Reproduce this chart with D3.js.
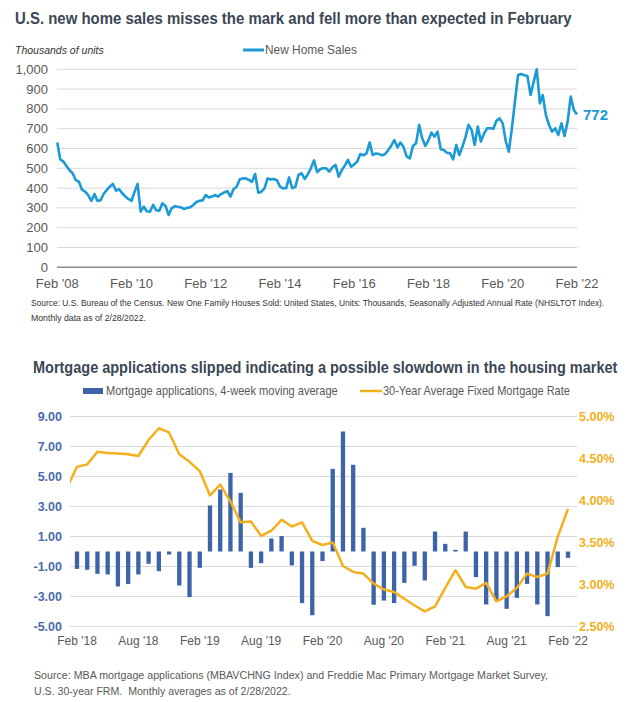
<!DOCTYPE html>
<html><head><meta charset="utf-8">
<script src="https://cdn.jsdelivr.net/npm/d3@7"></script>
<style>
body{margin:0;background:#fff;}
svg{display:block;font-family:"Liberation Sans",Arial,sans-serif;}
.narrow{font-family:"Liberation Sans Narrow","Arial Narrow","Liberation Sans",Arial,sans-serif;}
</style></head><body>
<svg id="c" width="630" height="702"></svg>
<script>
// ---------- Chart 1 data: U.S. new home sales (thousands, SAAR), monthly Feb 2008 .. Feb 2022
const salesStart = "2008-02-01";
const salesValues = [
630, 545, 534, 512, 490, 475, 440, 432, 392, 382, 365, 335,
370, 336, 338, 370, 390, 407, 421, 387, 395, 374, 358, 345,
336, 380, 421, 281, 306, 283, 281, 315, 288, 286, 323, 310,
264, 298, 308, 306, 303, 295, 300, 303, 315, 330, 336, 338,
365, 353, 357, 365, 357, 370, 378, 385, 357, 395, 407, 445,
449, 449, 441, 432, 471, 377, 382, 399, 449, 444, 446, 440,
407, 399, 399, 454, 400, 405, 466, 475, 446, 470, 500, 540,
480, 495, 500, 500, 483, 505, 517, 458, 490, 515, 542, 508,
520, 534, 572, 565, 575, 630, 567, 575, 572, 565, 572, 592,
615, 643, 606, 630, 606, 560, 550, 613, 626, 719, 650, 613,
643, 680, 660, 685, 596, 592, 579, 576, 545, 618, 567, 610,
660, 719, 694, 618, 711, 635, 675, 702, 702, 700, 740, 752,
727, 640, 584, 700, 840, 971, 976, 970, 966, 870, 935, 1000,
828, 870, 769, 720, 685, 702, 668, 727, 663, 736, 862, 795, 772];
const salesYTicks = [0,100,200,300,400,500,600,700,800,900,1000];
const salesXTickLabels = ["Feb '08","Feb '10","Feb '12","Feb '14","Feb '16","Feb '18","Feb '20","Feb '22"];
const salesLastLabel = "772";

// ---------- Chart 2 data: Feb 2018 .. Feb 2022 (49 months)
const appsMonthLabels = ["Feb '18","Mar '18","Apr '18","May '18","Jun '18","Jul '18","Aug '18","Sep '18","Oct '18","Nov '18","Dec '18","Jan '19",
"Feb '19","Mar '19","Apr '19","May '19","Jun '19","Jul '19","Aug '19","Sep '19","Oct '19","Nov '19","Dec '19","Jan '20",
"Feb '20","Mar '20","Apr '20","May '20","Jun '20","Jul '20","Aug '20","Sep '20","Oct '20","Nov '20","Dec '20","Jan '21",
"Feb '21","Mar '21","Apr '21","May '21","Jun '21","Jul '21","Aug '21","Sep '21","Oct '21","Nov '21","Dec '21","Jan '22","Feb '22"];
const mortgageApps = [-1.16,-1.22,-1.49,-1.53,-2.33,-2.16,-1.53,-0.82,-1.31,-0.20,-2.27,-3.04,
-1.09,3.07,4.13,5.24,3.91,-1.09,-0.78,0.87,1.03,-0.93,-3.44,-4.25,
-0.64,5.51,8.00,5.78,1.58,-3.55,-3.27,-3.44,-2.09,-0.95,-1.93,1.33,
0.51,0.11,1.33,-1.71,-3.53,-3.27,-3.82,-3.09,-2.16,-3.53,-4.31,-1.04,-0.42];
// 30-year fixed rate, Jan 2018 .. Feb 2022 (first point lies just left of the plot and is clipped)
const rateMonthLabels = ["Jan '18"].concat(appsMonthLabels);
const mortgageRate = [4.15,4.40,4.43,4.58,4.565,4.56,4.55,4.53,4.72,4.86,4.81,4.55,4.46,
4.35,4.06,4.19,3.99,3.74,3.75,3.58,3.64,3.77,3.69,3.74,3.52,
3.47,3.50,3.22,3.15,3.13,3.01,2.94,2.91,2.83,2.75,2.68,2.74,
2.96,3.17,2.97,2.95,3.02,2.80,2.86,2.96,3.13,3.09,3.13,3.57,3.90];
const appsTicks = [9,7,5,3,1,-1,-3,-5];
const appsTickLabels = ["9.00","7.00","5.00","3.00","1.00","-1.00","-3.00","-5.00"];
const rateTicks = [5,4.5,4,3.5,3,2.5];
const rateTickLabels = ["5.00%","4.50%","4.00%","3.50%","3.00%","2.50%"];
const appsXTickLabels = ["Feb '18","Aug '18","Feb '19","Aug '19","Feb '20","Aug '20","Feb '21","Aug '21","Feb '22"];

// ---------- styles
const TITLE = "#3b4754", GRAY = "#595959", GRID = "#d9d9d9";
const BLUE = "#1b9ad6", BAR = "#3d63a8", ORANGE = "#f3af1c", AXBLUE = "#4a6bab";

const svg = d3.select("#c");

function txt(g, x, y, s, o) {
  const t = g.append("text").attr("x", x).attr("y", y).text(s);
  for (const k in o) t.attr(k, o[k]);
  return t;
}
// squeeze/stretch a text horizontally so it spans the given width
function fit(t, w) {
  const L = t.node().getComputedTextLength();
  if (!L) return t;
  const x = +t.attr("x");
  t.attr("transform", `translate(${x},0) scale(${w / L},1) translate(${-x},0)`);
  return t;
}

// ================= Chart 1 =================
fit(txt(svg, 15, 24, "U.S. new home sales misses the mark and fell more than expected in February",
  {"font-size": 17, "font-weight": "bold", fill: TITLE, class: "narrow"}), 557);
txt(svg, 15, 54, "Thousands of units", {"font-size": 10.5, "font-style": "italic", fill: "#333"});
svg.append("line").attr("x1", 243).attr("x2", 264).attr("y1", 50).attr("y2", 50)
  .attr("stroke", BLUE).attr("stroke-width", 3);
fit(txt(svg, 265, 54.5, "New Home Sales", {"font-size": 12, fill: GRAY}), 92);

const t0 = d3.timeParse("%Y-%m-%d")(salesStart);
const salesData = salesValues.map((v, i) => ({d: d3.timeMonth.offset(t0, i), v}));
const x1 = d3.scaleTime().domain([t0, salesData[salesData.length - 1].d]).range([57.3, 577]);
const y1 = d3.scaleLinear().domain([0, 1000]).range([267.3, 69.3]);

const g1 = svg.append("g");
g1.selectAll("line.grid").data(salesYTicks.filter(d => d > 0)).join("line")
  .attr("x1", 57).attr("x2", 577).attr("y1", d => y1(d)).attr("y2", d => y1(d))
  .attr("stroke", GRID).attr("stroke-width", 1);
g1.append("line").attr("x1", 57).attr("x2", 577).attr("y1", y1(0)).attr("y2", y1(0))
  .attr("stroke", "#8c8c8c").attr("stroke-width", 1.6);
g1.selectAll("text.yt").data(salesYTicks).join("text")
  .attr("x", 48).attr("y", d => y1(d) + 4.5).attr("text-anchor", "end")
  .attr("font-size", 13).attr("fill", GRAY).text(d3.format(","));
const salesTickDates = salesXTickLabels.map((s, i) => d3.timeMonth.offset(t0, i * 24));
g1.selectAll("text.xt").data(salesTickDates).join("text")
  .attr("x", d => x1(d)).attr("y", 288).attr("text-anchor", "middle")
  .attr("font-size", 13).attr("fill", GRAY).text((d, i) => salesXTickLabels[i]);
g1.append("path").datum(salesData)
  .attr("d", d3.line().x(d => x1(d.d)).y(d => y1(d.v)))
  .attr("fill", "none").attr("stroke", BLUE).attr("stroke-width", 2.6).attr("stroke-linejoin", "round");
const last = salesData[salesData.length - 1];
txt(g1, x1(last.d) + 6, y1(last.v) + 5.5, salesLastLabel, {"font-size": 15, "font-weight": "bold", fill: BLUE});

fit(txt(svg, 31, 306, "Source: U.S. Bureau of the Census. New One Family Houses Sold: United States, Units: Thousands, Seasonally Adjusted Annual Rate (NHSLTOT Index).",
  {"font-size": 9, fill: "#333", class: "narrow"}), 574);
fit(txt(svg, 31, 321, "Monthly data as of 2/28/2022.", {"font-size": 9, fill: "#333", class: "narrow"}), 115);

// ================= Chart 2 =================
fit(txt(svg, 33, 373, "Mortgage applications slipped indicating a possible slowdown in the housing market",
  {"font-size": 16.5, "font-weight": "bold", fill: TITLE, class: "narrow"}), 585);
svg.append("rect").attr("x", 83).attr("y", 388).attr("width", 20).attr("height", 6).attr("fill", BAR);
fit(txt(svg, 106, 395.5, "Mortgage applications, 4-week moving average", {"font-size": 12, fill: GRAY}), 232);
svg.append("line").attr("x1", 360).attr("x2", 382).attr("y1", 391).attr("y2", 391).attr("stroke", ORANGE).attr("stroke-width", 2.5);
fit(txt(svg, 383, 395.5, "30-Year Average Fixed Mortgage Rate", {"font-size": 12, fill: GRAY}), 187);

const x2 = d3.scaleLinear().domain([0, appsMonthLabels.length - 1]).range([77, 568]);
const yL = d3.scaleLinear().domain([-5, 9]).range([626.5, 416.5]);
const yR = d3.scaleLinear().domain([2.5, 5]).range([626.5, 416.5]);
const g2 = svg.append("g");
g2.selectAll("line.grid").data(appsTicks).join("line")
  .attr("x1", 70).attr("x2", 577).attr("y1", d => yL(d)).attr("y2", d => yL(d))
  .attr("stroke", GRID).attr("stroke-width", 1);
g2.selectAll("text.yl").data(appsTicks).join("text")
  .attr("x", 62).attr("y", d => yL(d) + 4.5).attr("text-anchor", "end")
  .attr("font-size", 12.5).attr("font-weight", "bold").attr("fill", AXBLUE)
  .text((d, i) => appsTickLabels[i]);
g2.selectAll("text.yr").data(rateTicks).join("text")
  .attr("x", 579).attr("y", d => yR(d) + 4.5).attr("text-anchor", "start")
  .attr("font-size", 12.5).attr("font-weight", "bold").attr("fill", ORANGE)
  .text((d, i) => rateTickLabels[i]);
const bw = 4.3;
g2.selectAll("rect.bar").data(mortgageApps).join("rect")
  .attr("x", (d, i) => x2(i) - bw / 2).attr("width", bw)
  .attr("y", d => yL(Math.max(0, d))).attr("height", d => Math.abs(yL(d) - yL(0)))
  .attr("fill", BAR);
svg.append("clipPath").attr("id", "plot2").append("rect").attr("x", 70).attr("y", 400).attr("width", 507).attr("height", 240);
g2.append("path").datum(mortgageRate).attr("clip-path", "url(#plot2)")
  .attr("d", d3.line().x((d, i) => x2(i - 1)).y(d => yR(d)))
  .attr("fill", "none").attr("stroke", ORANGE).attr("stroke-width", 2.5).attr("stroke-linejoin", "round");
g2.selectAll("text.xt").data(appsXTickLabels).join("text")
  .attr("x", d => x2(appsMonthLabels.indexOf(d))).attr("y", 645).attr("text-anchor", "middle")
  .attr("font-size", 12).attr("fill", GRAY).text(d => d);

fit(txt(svg, 34, 679, "Source: MBA mortgage applications (MBAVCHNG Index) and Freddie Mac Primary Mortgage Market Survey,",
  {"font-size": 11.5, fill: GRAY}), 515);
fit(txt(svg, 34, 695, "U.S. 30-year FRM.\u00a0 Monthly averages as of 2/28/2022.",
  {"font-size": 11.5, fill: GRAY}), 257);
</script></body></html>
